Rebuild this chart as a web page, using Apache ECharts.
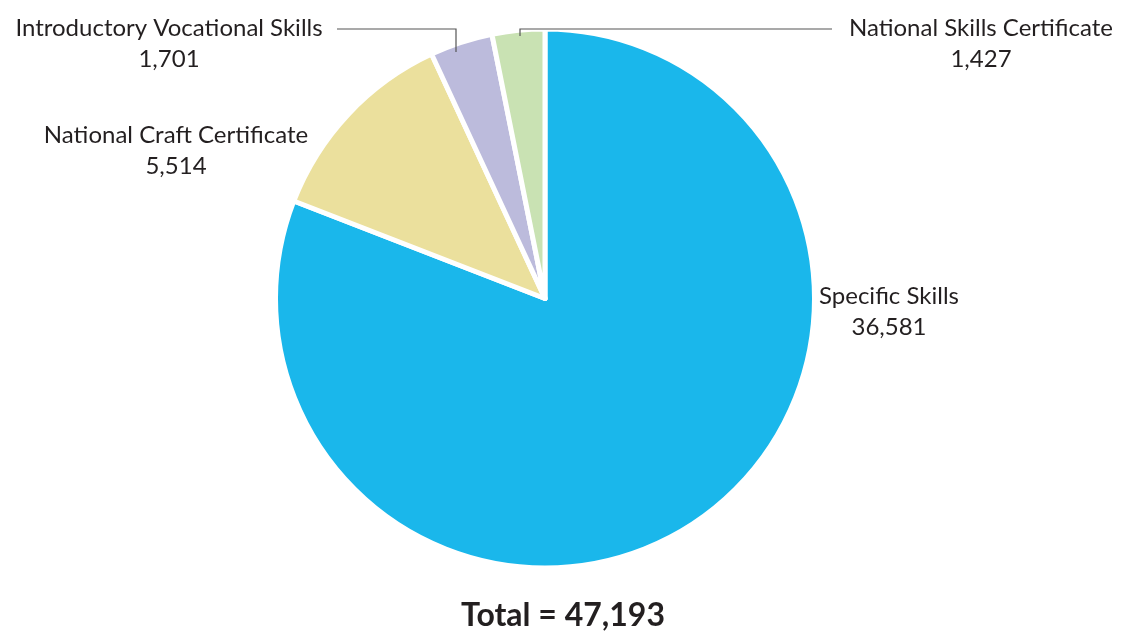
<!DOCTYPE html>
<html>
<head>
<meta charset="utf-8">
<script src="https://cdn.jsdelivr.net/npm/echarts@6/dist/echarts.min.js"></script>
<style>html,body{margin:0;padding:0;background:#fff}#c{width:1122px;height:633px}</style>
</head>
<body>
<div id="c"></div>
<script>
const categories = ['Specific Skills', 'National Craft Certificate', 'Introductory Vocational Skills', 'National Skills Certificate'];
const values = [36581, 5514, 1701, 1427];
const totalLabel = 'Total = 47,193';

const colors = ['#1ab7eb', '#ebe09d', '#bcbbdc', '#c9e2b3'];
const labelPos = [
  {x: 889, y: 312, line: null},
  {x: 176, y: 151, line: null},
  {x: 169, y: 44, line: [[456, 52], [456, 29], [337, 29]]},
  {x: 981, y: 44, line: [[520, 36], [520, 29], [832, 29]]}
];
const chart = echarts.init(document.getElementById('c'));
const common = {
  type: 'pie',
  center: [545, 298.5],
  radius: 269.5,
  startAngle: 90,
  clockwise: true,
  avoidLabelOverlap: false,
  emphasis: {disabled: true}
};
chart.setOption({
  animation: false,
  title: {
    text: totalLabel, left: 558, top: 595, textAlign: 'center',
    textStyle: {fontFamily: 'Lato', fontSize: 32, fontWeight: 'bold', color: '#231f20'}
  },
  series: [
    Object.assign({}, common, {
      z: 2,
      itemStyle: {borderColor: '#fff', borderWidth: 5},
      label: {show: false},
      labelLine: {show: false},
      data: categories.map((c, i) => ({name: c, value: values[i], itemStyle: {color: colors[i]}}))
    }),
    Object.assign({}, common, {
      z: 5,
      silent: true,
      itemStyle: {color: 'rgba(0,0,0,0)', borderWidth: 0},
      label: {
        show: true, position: 'outside',
        formatter: p => p.name + '\n' + p.value.toLocaleString('en-US'),
        fontFamily: 'Lato', fontSize: 24, lineHeight: 31, color: '#231f20', align: 'center'
      },
      labelLine: {show: true, lineStyle: {color: '#555', width: 1.2}},
      labelLayout: function (params) {
        const lp = labelPos[params.dataIndex];
        const r = {x: lp.x, y: lp.y, align: 'center', verticalAlign: 'middle'};
        if (lp.line) r.labelLinePoints = lp.line;
        return r;
      },
      data: categories.map((c, i) => ({
        name: c, value: values[i],
        labelLine: {show: !!labelPos[i].line}
      }))
    })
  ]
});
</script>
</body>
</html>
